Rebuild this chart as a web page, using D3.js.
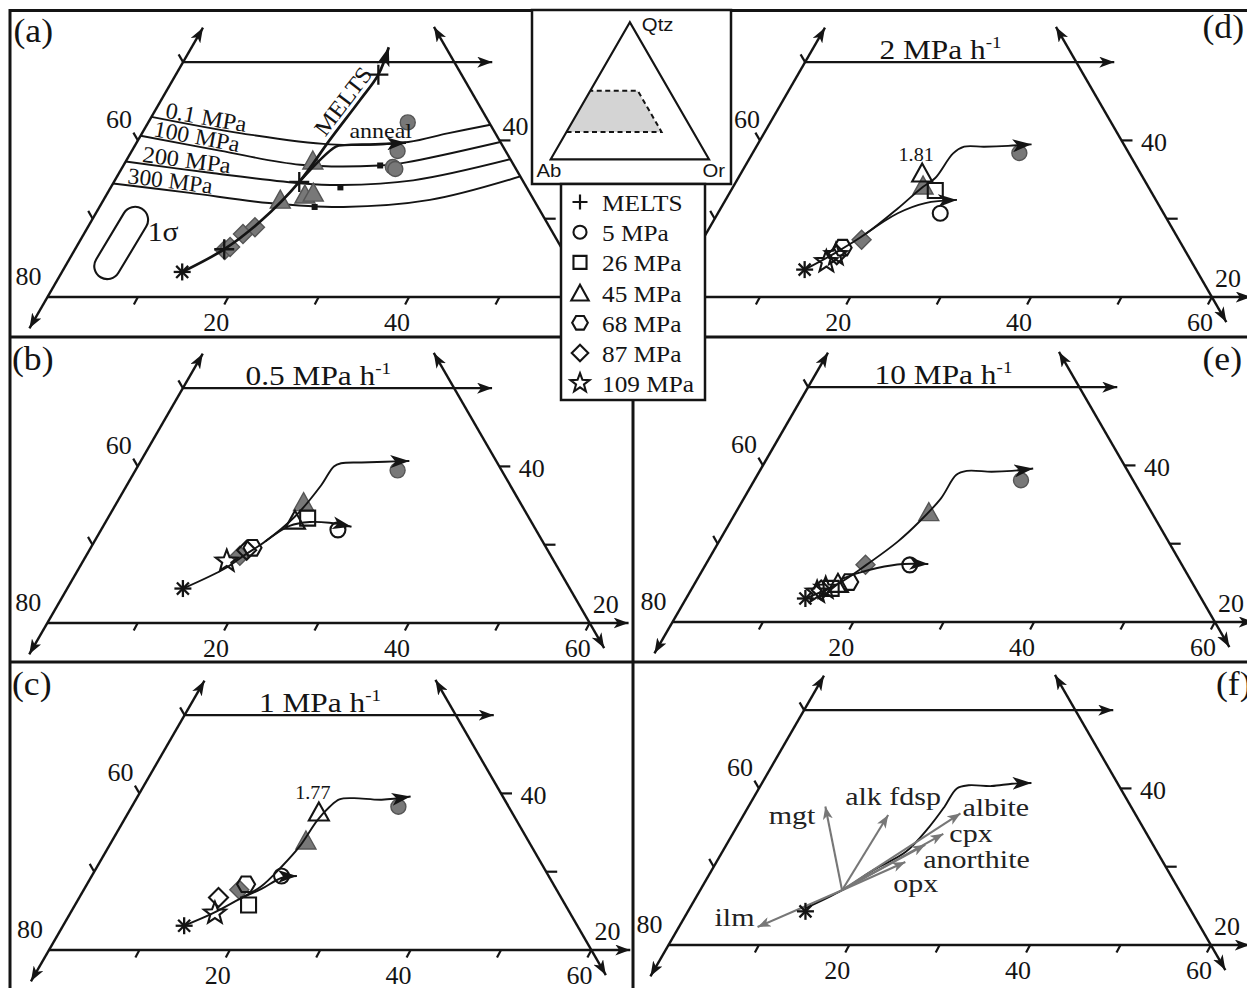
<!DOCTYPE html>
<html><head><meta charset="utf-8">
<script src="https://cdn.jsdelivr.net/npm/d3@7"></script>
<style>
html,body{margin:0;padding:0;background:#fff;}
svg{display:block;}
</style></head><body>
<svg id="fig" width="1247" height="988"></svg>
<script>
// Compositions are normative Qtz–Ab–Or (wt%), stored as [Qtz, Or]; Ab = 100 − Qtz − Or.

// ---- axis window shared by all panels ----
const qtzWindow = [20, 50];
const orTicks = [10, 20, 30, 40, 50, 60];
const orTickLabels = [20, 40, 60];
const abTicks = [50, 60, 70];
const abTickLabels = [60, 80];
const qtzTicks = [30, 40];
const qtzTickLabels = [20, 40];

// ---- (a) MELTS, isobars and annealing ----
const aStart = [23.2, 13.3];
const aMeltsPath = [[23.2,13.3],[26.1,16.5],[29.6,18.7],[34.7,20.5],[40.1,21.2],[45.2,22.0],[48.4,22.4],[51.9,21.8]];
const aMeltsSteps = [[26.1,16.5],[34.7,20.5],[48.4,22.4]];
const aAnnealPath = [[34.7,20.5],[39.2,22.3],[39.4,23.2],[39.5,26.5],[39.7,29.8]];
const isobarNames = ["0.1 MPa", "100 MPa", "200 MPa", "300 MPa"];
const iso01 = [[43.0,0],[40.9,11.0],[39.5,21.5],[39.8,30.0],[40.9,33.8],[42.0,38.0]];
const iso100 = [[40.6,0],[38.7,9.7],[36.9,19.5],[36.8,28.3],[37.2,31.1],[39.8,40.2]];
const iso200 = [[37.3,0],[35.8,10.5],[34.5,21.0],[34.3,25.3],[34.9,33.0],[37.6,42.4]];
const iso300 = [[34.5,0],[33.3,9.1],[32.0,18.5],[31.5,27.0],[32.4,36.1],[35.4,44.6]];
const isobarMarks = [[36.8,28.4],[34.0,25.4],[31.5,23.8]];
const aGrayCircles = [[42.3,28.7],[38.65,29.4],[36.6,29.9],[36.35,30.3]];
const aGrayTriangles = [[37.5,20.6],[32.5,19.5],[33.15,21.9],[33.4,22.7]];
const aGrayDiamonds = [[28.05,17.6],[28.9,18.5],[26.0,16.6],[26.4,17.0]];
const sigmaCentre = [26.9, 4.7];

// ---- decompression experiments: [shape, fill(g = natural glass, o = run product), Qtz, Or] ----
const bStart = [24.4,12.8];
const bMain = [[24.4,12.8],[27.0,16.2],[28.7,17.5],[30.4,18.9],[33.6,20.6],[37.6,21.5],[40.0,21.7],[40.4,22.3],[40.5,24.5],[40.6,27.1],[40.7,29.7]];
const bLower = [[30.4,18.9],[32.4,20.6],[32.9,22.6],[32.8,24.8],[32.3,27.5]];
const bMarks = [["circle","g",39.5,29.0],["triangle","g",35.5,20.6],["diamond","g",28.6,17.0],
  ["square","o",33.4,22.1],["triangle","o",33.2,20.8],["circle","o",31.9,26.2],["hexagon","o",29.6,17.9],["diamond","o",29.3,17.4],["star","o",27.9,15.9]];

const cStart = [23.1,13.4];
const cMain = [[23.1,13.4],[24.7,15.8],[26.6,17.9],[28.1,19.4],[30.6,20.4],[33.2,21.1],[36.6,21.4],[38.3,21.9],[39.25,22.5],[39.4,24.0],[39.2,27.2],[39.6,30.2]];
const cLower = [[26.6,17.9],[27.8,19.6],[29.2,21.1],[29.45,22.7]];
const cMarks = [["circle","g",38.3,29.5],["triangle","g",34.05,21.4],["diamond","g",27.7,17.2],
  ["triangle","o",37.7,21.0],["circle","o",29.45,21.0],["hexagon","o",28.4,17.6],["square","o",25.75,19.2],["diamond","o",26.7,15.4],["star","o",24.7,16.0]];
const cPeak = {qtz: 37.7, or: 21.0, text: "1.77"};

const dStart = [23.5,13.2];
const dMain = [[23.5,13.2],[25.6,15.5],[28.1,17.7],[31.3,19.6],[33.9,20.9],[35.2,21.8],[38.35,22.2],[39.2,23.0],[39.2,25.2],[39.3,27.8],[39.5,30.3]];
const dLower = [[28.1,17.7],[30.7,19.9],[32.0,22.3],[32.4,25.6]];
const dMarks = [["circle","g",38.4,29.5],["triangle","g",34.3,20.9],["diamond","g",27.3,17.6],
  ["triangle","o",35.9,20.0],["square","o",33.6,22.6],["circle","o",30.7,24.6],["hexagon","o",26.3,16.0],["diamond","o",25.4,15.8],["star","o",24.5,15.1],["star","o",25.4,15.7]];
const dPeak = {qtz: 35.9, or: 20.0, text: "1.81"};

const eStart = [23.0,13.2];
const eMain = [[23.0,13.2],[24.9,15.9],[27.3,17.8],[30.3,19.8],[32.8,20.9],[35.8,21.8],[38.8,22.0],[39.3,22.9],[39.2,25.7],[39.3,27.9],[39.6,30.1]];
const eLower = [[25.4,15.85],[26.2,17.3],[26.9,19.2],[27.4,21.8],[27.4,24.6]];
const eMarks = [["circle","g",38.1,29.5],["triangle","g",34.1,21.3],["diamond","g",27.3,17.7],
  ["circle","o",27.3,22.6],["hexagon","o",25.1,17.0],["triangle","o",25.0,15.8],["square","o",24.3,15.4],["diamond","o",24.1,14.4],["star","o",23.8,14.1],["star","o",24.3,14.8]];

// ---- (f) crystallisation vectors ----
const fStart = [24.3,13.0];
const fMain = [[24.7,12.8],[27.0,15.7],[29.6,17.9],[31.9,20.3],[35.1,21.3],[37.7,21.7],[40.0,21.9],[40.4,23.0],[40.3,25.6],[40.6,27.7],[40.7,29.8]];
const fVectorFrom = [27.0,15.7];
const fVectorNames = ["ilm","mgt","alk fdsp","albite","cpx","anorthite","opx"];
const fVectorTips = [[22.3,8.7],[37.7,8.5],[36.6,16.0],[36.8,23.9],[34.2,23.3],[32.8,22.0],[30.6,20.9]];

// ---- panel tags, rates and legend ----
const panelTags = ["(a)","(b)","(c)","(d)","(e)","(f)"];
const panelRates = [null, "0.5", "1", "2", "10", null];
const legendShapes = ["plus","circle","square","triangle","hexagon","diamond","star"];
const legendNames = ["MELTS","5 MPa","26 MPa","45 MPa","68 MPa","87 MPa","109 MPa"];
const insetApices = ["Qtz","Ab","Or"];

// ---------------------------------------------------------------------------
const SERIF = "'Liberation Serif','Times New Roman',Times,serif";
const SANS = "'Liberation Sans',Arial,Helvetica,sans-serif";
const INK = "#141414";
const GRAY = "#787878";
const GRAY_EDGE = "#555555";
const S = 9.04;                   // px per wt% along a triangle side
const H = S * Math.sqrt(3) / 2;    // px per wt% Qtz vertically

const svg = d3.select("#fig");
const defs = svg.append("defs");

function marker(id, len, half, notch, color) {
  defs.append("marker").attr("id", id)
    .attr("viewBox", `0 ${-half} ${len} ${2 * half}`)
    .attr("refX", len).attr("refY", 0)
    .attr("markerWidth", len).attr("markerHeight", 2 * half)
    .attr("markerUnits", "userSpaceOnUse").attr("orient", "auto-start-reverse")
    .append("path").attr("d", `M0,${-half}L${len},0L0,${half}L${notch},0Z`).attr("fill", color);
}
marker("axArrow", 15, 5.5, 4, INK);
marker("trajArrow", 19, 6.5, 5, INK);
marker("vecArrow", 13, 5, 3.5, "#777");

// ternary projection for one panel; (ox, oy) is the Qtz20–Ab80–Or0 corner
function makeProjection(ox, oy) {
  const x = d3.scaleLinear().domain([10, 80]).range([ox, ox + S * 70]);
  const y = d3.scaleLinear().domain(qtzWindow).range([oy, oy - H * (qtzWindow[1] - qtzWindow[0])]);
  return { x, y, ox, oy, p: (q, o) => [x(o + q / 2), y(q)] };
}

function txt(g, x, y, s, size, sx, anchor, family, fill) {
  return g.append("text")
    .attr("transform", `translate(${x},${y}) scale(${sx},1)`)
    .attr("text-anchor", anchor || "middle")
    .attr("font-family", family || SERIF)
    .attr("font-size", size)
    .attr("fill", fill || INK)
    .text(s);
}

function symbolPath(kind, small) {
  const k = small ? 0.87 : 1;
  if (kind === "circle") { const r = 7.5 * k; return `M${r},0A${r},${r} 0 1,1 ${-r},0A${r},${r} 0 1,1 ${r},0Z`; }
  if (kind === "square") { const h = 7.5 * k; return `M${-h},${-h}H${h}V${h}H${-h}Z`; }
  if (kind === "triangle") { const w = 10 * k, hh = 9 * k; return `M0,${-hh}L${w},${hh}L${-w},${hh}Z`; }
  if (kind === "diamond") { const d = 9.5 * k; return `M0,${-d}L${d},0L0,${d}L${-d},0Z`; }
  if (kind === "hexagon") {
    const r = 9 * k;
    return d3.range(6).map(i => { const a = i * Math.PI / 3; return (i ? "L" : "M") + (r * Math.cos(a)).toFixed(2) + "," + (r * Math.sin(a)).toFixed(2); }).join("") + "Z";
  }
  if (kind === "star") {
    const R = 11.5 * k, r = 4.8 * k;
    return d3.range(10).map(i => { const a = -Math.PI / 2 + i * Math.PI / 5, rr = i % 2 ? r : R; return (i ? "L" : "M") + (rr * Math.cos(a)).toFixed(2) + "," + (rr * Math.sin(a)).toFixed(2); }).join("") + "Z";
  }
  if (kind === "plus") { const h = small ? 7.5 : 10; return `M${-h},0H${h}M0,${-h}V${h}`; }
  return "";
}

function drawMark(g, kind, style, x, y, small) {
  const el = g.append("path").attr("d", symbolPath(kind, small)).attr("transform", `translate(${x},${y})`);
  if (style === "g") el.attr("fill", GRAY).attr("stroke", GRAY_EDGE).attr("stroke-width", 1.4);
  else el.attr("fill", "none").attr("stroke", INK).attr("stroke-width", 2.1).attr("stroke-linejoin", "miter");
  return el;
}

function drawAsterisk(g, x, y) {
  const r = 8.5;
  [0, 45, 90, 135].forEach(a => {
    const c = Math.cos(a * Math.PI / 180) * r, s = Math.sin(a * Math.PI / 180) * r;
    g.append("line").attr("x1", x - c).attr("y1", y - s).attr("x2", x + c).attr("y2", y + s)
      .attr("stroke", INK).attr("stroke-width", 2.3);
  });
}

function curve(P) {
  return d3.line().curve(d3.curveCatmullRom.alpha(0.5)).x(d => P.p(d[0], d[1])[0]).y(d => P.p(d[0], d[1])[1]);
}

// per-panel nudges of the upper Ab label where it would sit against the inset
const abLabelShift = [0, 0, 0, 6, 0, 0];

function drawFrame(g, P, tagIndex) {
  const seg = (a, b, ms, me) => {
    const l = g.append("line").attr("x1", a[0]).attr("y1", a[1]).attr("x2", b[0]).attr("y2", b[1])
      .attr("stroke", INK).attr("stroke-width", 2.4);
    if (ms) l.attr("marker-start", "url(#axArrow)");
    if (me) l.attr("marker-end", "url(#axArrow)");
  };
  const tick = (x1, y1, x2, y2) => g.append("line").attr("x1", x1).attr("y1", y1).attr("x2", x2).attr("y2", y2)
    .attr("stroke", INK).attr("stroke-width", 2.2);
  const top = qtzWindow[1], base = qtzWindow[0];
  seg(P.p(base - 4, 0), P.p(top + 4.4, 0), true, true);            // Ab edge (Or = 0)
  seg(P.p(top, 0), P.p(top, 34.2), false, true);                    // Qtz = 50
  seg(P.p(top + 4.5, 75.5 - top), P.p(base - 3.2, 83.2 - base), true, true); // Ab = 20 edge
  seg(P.p(base, 0), P.p(base, 64.3), false, true);                  // Qtz = 20
  orTicks.forEach(o => { const [x, y] = P.p(base, o); tick(x, y, x - 4, y + 7.5); });
  abTicks.forEach(ab => { const [x, y] = P.p(100 - ab, 0); tick(x, y, x - 4.5, y - 7.8); });
  qtzTicks.forEach(q => { const [x, y] = P.p(q, 80 - q); tick(x, y, x + 11, y); });

  abTickLabels.forEach(ab => {
    const [x, y] = P.p(100 - ab, 0);
    const shift = ab === 60 ? abLabelShift[tagIndex] : 0;
    txt(g, x - 19 + shift, y - 12, String(ab), 25, 1.04);
  });
  orTickLabels.forEach(o => { const [x, y] = P.p(base, o); txt(g, x - 12, y + 33.5, String(o), 25, 1.04); });
  qtzTickLabels.forEach(q => {
    const [x, y] = P.p(q, 80 - q);
    if (q === base) txt(g, x + 16, y - 10, String(q), 25, 1.04);
    else if (tagIndex === 0) txt(g, x + 16, y - 5, String(q), 25, 1.04);
    else txt(g, x + 32.5, y + 11, String(q), 25, 1.04);
  });
}

function drawTitle(g, P, rate) {
  const t = g.append("text")
    .attr("transform", `translate(${P.ox + 271},${P.oy - 238}) scale(1.12,1)`)
    .attr("text-anchor", "middle").attr("font-family", SERIF).attr("font-size", 28).attr("fill", INK);
  t.append("tspan").text(`${rate} MPa h`);
  t.append("tspan").attr("font-size", 17).attr("dy", -11).text("-1");
}

function drawExperiment(g, P, start, main, lower, marks, peak) {
  const line = curve(P);
  marks.filter(m => m[1] === "g").forEach(m => { const [x, y] = P.p(m[2], m[3]); drawMark(g, m[0], "g", x, y); });
  [main, lower].forEach(path => {
    g.append("path").attr("d", line(path)).attr("fill", "none").attr("stroke", INK)
      .attr("stroke-width", 1.9).attr("marker-end", "url(#trajArrow)");
  });
  marks.filter(m => m[1] === "o").forEach(m => { const [x, y] = P.p(m[2], m[3]); drawMark(g, m[0], "o", x, y); });
  if (peak) { const [x, y] = P.p(peak.qtz, peak.or); txt(g, x - 6, y - 12, peak.text, 18, 1.12); }
  const [sx, sy] = P.p(start[0], start[1]);
  drawAsterisk(g, sx, sy);
}

// ---- panel geometry ----
const panels = [
  makeProjection(47.5, 297),   // a
  makeProjection(47.3, 623),   // b
  makeProjection(49, 950),     // c
  makeProjection(669.5, 297),  // d
  makeProjection(672.5, 622),  // e
  makeProjection(668.5, 945)   // f
];
const tagPos = [[13.5, 42, "start"], [12, 370, "start"], [12, 695, "start"], [1202.5, 38, "start"], [1202.5, 370, "start"], [1216, 695, "start"]];

panels.forEach((P, i) => {
  const g = svg.append("g").attr("class", "panel-" + "abcdef"[i]);
  drawFrame(g, P, i);
  if (panelRates[i]) drawTitle(g, P, panelRates[i]);
  txt(g, tagPos[i][0], tagPos[i][1], panelTags[i], 33, 1.08, tagPos[i][2]);
});

// ---- (a) ----
{
  const P = panels[0];
  const g = svg.select(".panel-a");
  const line = curve(P);
  const isobars = [iso01, iso100, iso200, iso300];
  const isoStart = [13, 12, 16, 14];
  const isoLen = [82, 87, 89, 85];
  isobars.forEach((iso, i) => {
    g.append("path").attr("id", "isobar" + i).attr("d", line(iso))
      .attr("fill", "none").attr("stroke", INK).attr("stroke-width", 1.9);
    g.append("text").attr("font-family", SERIF).attr("font-size", 23).attr("fill", INK).attr("dy", -2)
      .append("textPath").attr("href", "#isobar" + i).attr("startOffset", isoStart[i])
      .attr("textLength", isoLen[i]).attr("lengthAdjust", "spacingAndGlyphs").text(isobarNames[i]);
  });
  isobarMarks.forEach(m => { const [x, y] = P.p(m[0], m[1]); g.append("rect").attr("x", x - 3).attr("y", y - 3).attr("width", 6).attr("height", 6).attr("fill", INK); });

  aGrayCircles.forEach(m => { const [x, y] = P.p(m[0], m[1]); drawMark(g, "circle", "g", x, y); });
  aGrayTriangles.forEach(m => { const [x, y] = P.p(m[0], m[1]); drawMark(g, "triangle", "g", x, y); });
  aGrayDiamonds.forEach(m => { const [x, y] = P.p(m[0], m[1]); drawMark(g, "diamond", "g", x, y); });

  const melts = g.append("path").attr("id", "meltsPath").attr("d", line(aMeltsPath)).attr("fill", "none")
    .attr("stroke", INK).attr("stroke-width", 2.7).attr("marker-end", "url(#trajArrow)");
  g.append("path").attr("d", line(aAnnealPath)).attr("fill", "none")
    .attr("stroke", INK).attr("stroke-width", 2.5).attr("marker-end", "url(#trajArrow)");
  aMeltsSteps.forEach(m => { const [x, y] = P.p(m[0], m[1]); g.append("path").attr("d", symbolPath("plus")).attr("transform", `translate(${x},${y})`).attr("stroke", INK).attr("stroke-width", 2.3).attr("fill", "none"); });

  // "MELTS" rides along the curve from where it crosses the 0.1 MPa isobar
  const node = melts.node(), total = node.getTotalLength();
  const crossY = P.p(iso01[2][0], 0)[1] - 3;
  let off = 0;
  for (let l = 0; l < total; l += 1) { if (node.getPointAtLength(l).y <= crossY) { off = l; break; } }
  g.append("text").attr("font-family", SERIF).attr("font-size", 23).attr("fill", INK).attr("dy", -5)
    .append("textPath").attr("href", "#meltsPath").attr("startOffset", off)
    .attr("textLength", 80).attr("lengthAdjust", "spacingAndGlyphs").text("MELTS");

  const [ax, ay] = P.p(aAnnealPath[2][0], aAnnealPath[2][1]);
  txt(g, ax + 4.5, ay - 7, "anneal", 20, 1.2, "start");

  const [cx, cy] = P.p(sigmaCentre[0], sigmaCentre[1]);
  g.append("rect").attr("transform", `translate(${cx},${cy}) rotate(-59)`)
    .attr("x", -40).attr("y", -13).attr("width", 80).attr("height", 26).attr("rx", 13)
    .attr("fill", "none").attr("stroke", INK).attr("stroke-width", 2.1);
  txt(g, cx + 26.5, cy - 2, "1σ", 27, 1.1, "start");

  const [sx, sy] = P.p(aStart[0], aStart[1]);
  drawAsterisk(g, sx, sy);
}

// ---- (b)–(e) ----
drawExperiment(svg.select(".panel-b"), panels[1], bStart, bMain, bLower, bMarks, null);
drawExperiment(svg.select(".panel-c"), panels[2], cStart, cMain, cLower, cMarks, cPeak);
drawExperiment(svg.select(".panel-d"), panels[3], dStart, dMain, dLower, dMarks, dPeak);
drawExperiment(svg.select(".panel-e"), panels[4], eStart, eMain, eLower, eMarks, null);

// ---- (f) ----
{
  const P = panels[5];
  const g = svg.select(".panel-f");
  g.append("path").attr("d", curve(P)(fMain)).attr("fill", "none").attr("stroke", INK)
    .attr("stroke-width", 1.9).attr("marker-end", "url(#trajArrow)");
  const [fx, fy] = P.p(fVectorFrom[0], fVectorFrom[1]);
  const labelPlace = {"ilm": ["end", -3, -1], "mgt": ["end", -10, 18], "alk fdsp": ["start", -43, -10],
    "albite": ["start", 2, 3], "cpx": ["start", 6, 8], "anorthite": ["start", -2, 23], "opx": ["start", -12, 30]};
  fVectorTips.forEach((t, i) => {
    const [tx, ty] = P.p(t[0], t[1]);
    g.append("line").attr("x1", fx).attr("y1", fy).attr("x2", tx).attr("y2", ty)
      .attr("stroke", "#777").attr("stroke-width", 2.1).attr("marker-end", "url(#vecArrow)");
    const lp = labelPlace[fVectorNames[i]];
    txt(g, tx + lp[1], ty + lp[2], fVectorNames[i], 25, 1.2, lp[0], SERIF, "#222");
  });
  const [sx, sy] = P.p(fStart[0], fStart[1]);
  drawAsterisk(g, sx, sy);
}

// ---- panel rules ----
const rule = (x1, y1, x2, y2) => svg.append("line").attr("x1", x1).attr("y1", y1).attr("x2", x2).attr("y2", y2)
  .attr("stroke", INK).attr("stroke-width", 3);
svg.append("rect").attr("x", 10).attr("y", 10.5).attr("width", 1250).attr("height", 990)
  .attr("fill", "none").attr("stroke", INK).attr("stroke-width", 3);
rule(10, 337, 1247, 337);
rule(10, 662, 1247, 662);
rule(633, 400, 633, 988);

// ---- inset: location of the plotted window in Qtz–Ab–Or ----
{
  const g = svg.append("g");
  g.append("rect").attr("x", 532).attr("y", 10).attr("width", 199).attr("height", 174)
    .attr("fill", "#fff").attr("stroke", INK).attr("stroke-width", 2.5);
  const ix = d3.scaleLinear().domain([0, 100]).range([550.7, 709]);
  const iy = d3.scaleLinear().domain([0, 100]).range([159.3, 159.3 - 158.3 * Math.sqrt(3) / 2]);
  const ip = (q, o) => [ix(o + q / 2), iy(q)];
  const win = [[qtzWindow[0], 0], [qtzWindow[0], 60], [qtzWindow[1], 30], [qtzWindow[1], 0]];
  g.append("path").attr("d", "M" + win.map(d => ip(d[0], d[1]).join(",")).join("L") + "Z").attr("fill", "#d4d4d4");
  g.append("path").attr("d", "M" + win.map(d => ip(d[0], d[1]).join(",")).join("L"))
    .attr("fill", "none").attr("stroke", INK).attr("stroke-width", 2).attr("stroke-dasharray", "5,3.5");
  const apex = [ip(100, 0), ip(0, 0), ip(0, 100)];
  g.append("path").attr("d", "M" + apex.map(d => d.join(",")).join("L") + "Z")
    .attr("fill", "none").attr("stroke", INK).attr("stroke-width", 2.2).attr("stroke-linejoin", "miter");
  txt(g, apex[0][0] + 12, apex[0][1] + 9, insetApices[0], 19, 1.07, "start", SANS);
  txt(g, 536.5, 177, insetApices[1], 19, 1.07, "start", SANS);
  txt(g, 702.5, 177, insetApices[2], 19, 1.07, "start", SANS);
}

// ---- legend ----
{
  const g = svg.append("g");
  g.append("rect").attr("x", 561).attr("y", 184).attr("width", 144).attr("height", 216)
    .attr("fill", "#fff").attr("stroke", INK).attr("stroke-width", 2.5);
  legendShapes.forEach((k, i) => {
    const y = 202 + 30.2 * i;
    if (k === "plus") g.append("path").attr("d", symbolPath("plus", true)).attr("transform", `translate(580,${y})`).attr("stroke", INK).attr("stroke-width", 2.2);
    else drawMark(g, k, "o", 580, y, true);
    txt(g, 602, y + 9, legendNames[i], 23, 1.1, "start");
  });
}
</script>
</body></html>
